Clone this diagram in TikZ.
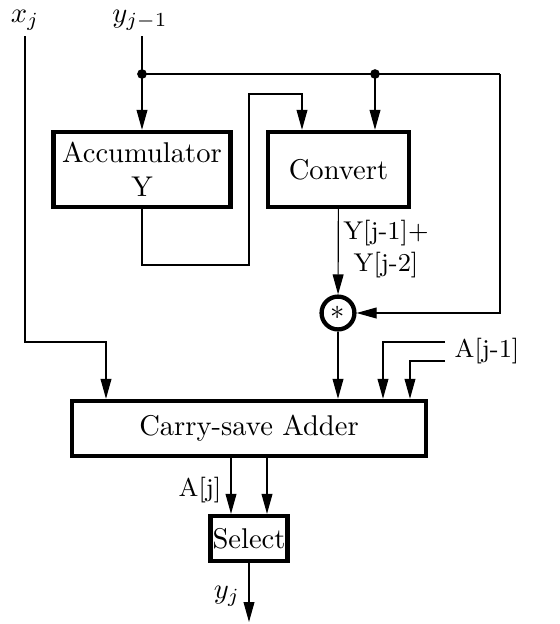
\documentclass[tikz,border=0pt]{standalone}
\usepackage{tikz}
\usetikzlibrary{arrows.meta,calc,positioning}

\begin{document}
\begin{tikzpicture}[x=0.35pt,y=-0.35pt,>={Triangle[length=7pt,width=3.8pt]},
  blk/.style={draw,line width=1.5pt,inner sep=0pt},
  lbl/.style={font=\small,inner sep=1pt}]
\useasboundingbox (0,0) rectangle (560,624);
\node[blk,minimum width=62pt,minimum height=26.3pt,align=center] (acc) at (142,169.5) {Accumulator\\Y};
\node[blk,minimum width=49.4pt,minimum height=26.3pt] (conv) at (338.5,169.5) {Convert};
\node[blk,circle,minimum size=11.5pt] (mult) at (338,313) {$*$};
\node[blk,minimum width=124pt,minimum height=19.3pt] (csa) at (249,428.5) {Carry-save Adder};
\node[blk,minimum width=27pt,minimum height=15.75pt] (sel) at (249,538.5) {Select};
\node (xl) at (25,20) {$x_j$};
\node (yl) at (140,20) {$y_{j-1}$};
\node[lbl,align=center] (sum) at (386,249) {Y[j-1]+\\Y[j-2]};
\node[lbl] (ajm) at (487,351) {A[j-1]};
\node[lbl] (aj) at (200,490) {A[j]};
\node (yj) at (227,596) {$y_j$};
\coordinate (xin) at (25,36);
\coordinate (yin) at (142,36);
\coordinate (dl) at (142,74);
\coordinate (dr) at (375,74);
\coordinate (fb) at (500,74);
\coordinate (xb) at (106,342);
\coordinate (ab) at (249,265);
\coordinate (at) at (302,94);
\coordinate (ja) at (445,342);
\coordinate (jb) at (445,361);
\coordinate (yout) at (249,622);
% inputs and feedback
\draw (yin) -- (dl) -- (fb);
\draw[->] (dl) -- (acc);
\draw[->] (dr) -- (dr |- conv.north);
\draw[->] (fb) |- (mult);
\fill (dl) circle (1.7pt) (dr) circle (1.7pt);
\draw[->] (acc.south) |- (ab) |- (at) -- (at |- conv.north);
\draw[->] (conv) -- (mult);
% adder
\draw[->] (xin) |- (xb) -- (xb |- csa.north);
\draw[->] (mult) -- (mult |- csa.north);
\draw[->] (ja) -| ([xshift=46.9pt]csa.north);
\draw[->] (jb) -| ([xshift=56.35pt]csa.north);
\draw[->] ([xshift=-6.3pt]csa.south) -- ([xshift=-6.3pt]sel.north);
\draw[->] ([xshift=6.3pt]csa.south) -- ([xshift=6.3pt]sel.north);
\draw[->] (sel) -- (yout);
\end{tikzpicture}
\end{document}
